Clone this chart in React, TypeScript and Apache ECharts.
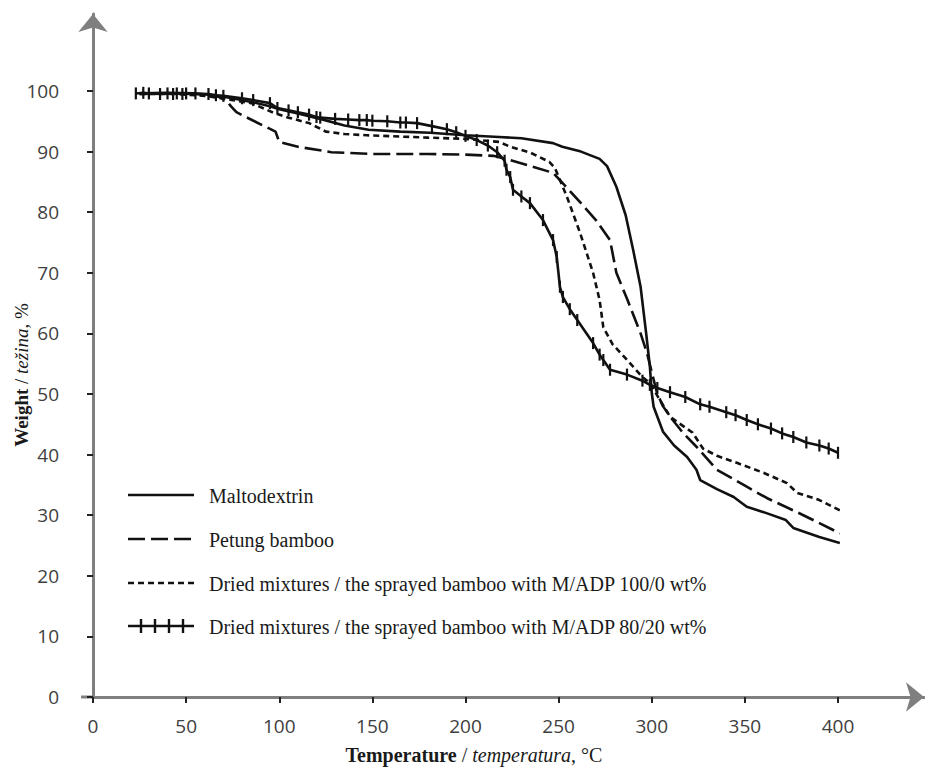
import React, { useEffect, useRef } from 'react';
import * as echarts from 'echarts';

// Temperature (°C) vs weight (%)
const maltodextrin: [number, number][] = [
  [25, 99.6], [40, 99.7], [55, 99.6], [65, 99.3], [75, 98.8], [85, 98.2], [95, 97.5], [100, 97.0],
  [110, 96.3], [122, 95.4], [135, 94.3], [148, 93.6], [165, 93.3], [181, 93.1], [200, 92.7],
  [218, 92.4], [230, 92.2], [247, 91.4], [252, 90.8], [262, 90.0], [272, 88.8], [276, 87.6],
  [281, 84.2], [286, 79.5], [290, 73.8], [294, 67.7], [297, 60.0], [299, 54.5], [300, 50.2],
  [301, 47.9], [306, 43.8], [312, 41.5], [319, 39.6], [324, 37.5], [326, 35.8], [335, 34.3],
  [344, 33.0], [351, 31.4], [362, 30.3], [372, 29.2], [376, 27.9], [390, 26.4], [401, 25.4],
];

const petungBamboo: [number, number][] = [
  [25, 99.5], [45, 99.6], [60, 99.4], [68, 99.0], [72, 98.3], [74, 97.5], [77, 96.5], [88, 94.8],
  [98, 93.3], [100, 91.6], [110, 90.8], [128, 89.9], [150, 89.6], [180, 89.6], [200, 89.5],
  [215, 89.3], [224, 88.6], [235, 87.6], [247, 86.5], [254, 84.2], [262, 81.5], [270, 78.7],
  [277.6, 75.4], [281, 70.0], [287, 65.5], [294, 60.0], [297.4, 56.8], [302.8, 50.2], [306, 48.0],
  [310, 46.2], [317, 43.5], [324, 41.3], [335, 37.5], [351, 34.7], [362, 32.8], [378, 30.5],
  [390, 28.7], [401, 27.0],
];

const mix100: [number, number][] = [
  [25, 99.5], [45, 99.5], [60, 99.2], [75, 98.5], [85, 98.0], [97, 96.4], [105, 95.6], [116, 94.7],
  [125, 93.3], [135, 92.9], [147, 92.7], [180, 92.3], [200, 92.1], [218, 91.6], [224, 90.8],
  [235, 89.8], [245, 88.3], [248, 87.3], [254.5, 82.5], [261.5, 76.6], [268.5, 70.0], [272, 65.5],
  [274, 61.0], [279, 58.2], [285, 56.2], [290, 54.5], [295, 52.8], [299, 51.8], [304, 49.2],
  [310, 46.2], [322, 43.6], [327.5, 41.0], [335, 39.8], [346, 38.6], [360, 37.0], [372.6, 35.3],
  [378, 33.7], [390, 32.5], [401, 30.8],
];

const mix80: [number, number][] = [
  [23, 99.6], [27, 99.7], [30, 99.6], [36, 99.5], [40, 99.6], [43, 99.5], [45, 99.6], [48, 99.5],
  [50, 99.6], [55, 99.6], [62, 99.5], [66, 99.3], [70, 99.2], [80, 98.8], [86, 98.5], [95, 98.0],
  [99, 97.2], [105, 96.8], [110, 96.5], [116, 96.1], [120, 95.7], [122, 95.6], [130, 95.4],
  [137, 95.3], [143, 95.2], [147, 95.2], [150, 95.1], [158, 95.0], [165, 94.8], [168, 94.8],
  [174, 94.7], [182, 94.2], [190, 93.7], [195, 93.2], [200, 92.6], [206, 91.9], [212, 91.0],
  [217, 89.9], [221, 88.5], [222, 87.0], [224, 85.8], [225.5, 83.7], [230, 82.6], [234.6, 81.5],
  [241.6, 78.7], [247, 75.4], [249, 72.6], [250.7, 67.7], [252.3, 66.0], [256, 64.0], [260, 62.2],
  [268.5, 58.4], [272, 56.5], [274, 55.6], [277.6, 54.0], [286.7, 53.2], [295, 52.2], [299, 51.5],
  [303, 51.0], [309.8, 50.3], [318, 49.5], [326, 48.3], [331, 47.9], [340, 47.0], [345, 46.5],
  [351, 45.7], [357, 45.0], [364, 44.3], [370, 43.5], [376, 42.9], [383, 42.0], [390, 41.5],
  [395, 41.0], [400, 40.3],
];

const seriesNames = [
  'Maltodextrin',
  'Petung bamboo',
  'Dried mixtures / the sprayed bamboo with M/ADP 100/0 wt%',
  'Dried mixtures / the sprayed bamboo with M/ADP 80/20 wt%',
];

const X_MIN = 0;
const X_MAX = 400;
const X_STEP = 50;
const Y_MIN = 0;
const Y_MAX = 100;
const Y_STEP = 10;

const INK = '#111111';
const AXIS_GRAY = '#7f7f7f';
const LABEL_FONT = 'Open Sans';
const SERIF = 'Liberation Serif';

export default function App() {
  const ref = useRef<HTMLDivElement>(null);

  useEffect(() => {
    if (!ref.current) return;
    const chart = echarts.init(ref.current, null, { renderer: 'svg' });

    const legendRows = [495, 539, 583, 626];
    const lx0 = 128;
    const lx1 = 194;
    const legendGraphics: any[] = [];
    const dashes: (number[] | null)[] = [null, [17, 6], [6, 4], null];
    seriesNames.forEach((name, i) => {
      const y = legendRows[i];
      legendGraphics.push({
        type: 'line',
        shape: { x1: lx0, y1: y, x2: lx1, y2: y },
        style: { stroke: INK, lineWidth: 2.6, lineDash: dashes[i] || undefined },
      });
      if (i === 3) {
        [141, 155, 169, 183].forEach((tx) => {
          legendGraphics.push({
            type: 'line',
            shape: { x1: tx, y1: y - 7, x2: tx, y2: y + 7 },
            style: { stroke: INK, lineWidth: 2.4 },
          });
        });
      }
      legendGraphics.push({
        type: 'text',
        x: 209,
        y: y + 1,
        style: {
          text: name,
          fontFamily: SERIF,
          fontSize: 20,
          fill: '#1a1a1a',
          align: 'left',
          verticalAlign: 'middle',
        },
      });
    });

    const option: any = {
      animation: false,
      backgroundColor: '#ffffff',
      grid: [
        { left: 93, right: 87, top: 91, bottom: 72 },
        { left: 93, right: 1, top: 14, bottom: 72 },
      ],
      xAxis: [
        {
          gridIndex: 0,
          type: 'value',
          min: X_MIN,
          max: X_MAX,
          interval: X_STEP,
          axisLine: { show: false },
          axisTick: { show: true, length: 6, lineStyle: { color: '#222', width: 2 } },
          axisLabel: { margin: 19, fontFamily: LABEL_FONT, fontSize: 19, color: '#404040' },
          splitLine: { show: false },
        },
        {
          gridIndex: 1,
          type: 'value',
          min: 0,
          max: 1,
          axisLine: {
            show: true,
            symbol: ['none', 'arrow'],
            symbolSize: [22, 18],
            lineStyle: { color: AXIS_GRAY, width: 3 },
          },
          axisTick: { show: false },
          axisLabel: { show: false },
          splitLine: { show: false },
        },
      ],
      yAxis: [
        {
          gridIndex: 0,
          type: 'value',
          min: Y_MIN,
          max: Y_MAX,
          interval: Y_STEP,
          axisLine: { show: false },
          axisTick: { show: true, length: 6, lineStyle: { color: '#222', width: 2 } },
          axisLabel: { margin: 34, fontFamily: LABEL_FONT, fontSize: 19, color: '#404040' },
          splitLine: { show: false },
        },
        {
          gridIndex: 1,
          type: 'value',
          min: 0,
          max: 1,
          axisLine: {
            show: true,
            symbol: ['none', 'arrow'],
            symbolSize: [22, 18],
            lineStyle: { color: AXIS_GRAY, width: 3 },
          },
          axisTick: { show: false },
          axisLabel: { show: false },
          splitLine: { show: false },
        },
      ],
      series: [
        {
          name: seriesNames[0],
          type: 'line',
          xAxisIndex: 0,
          yAxisIndex: 0,
          data: maltodextrin,
          showSymbol: false,
          symbol: 'none',
          lineStyle: { color: INK, width: 2.6 },
          silent: true,
        },
        {
          name: seriesNames[1],
          type: 'line',
          xAxisIndex: 0,
          yAxisIndex: 0,
          data: petungBamboo,
          showSymbol: false,
          symbol: 'none',
          lineStyle: { color: INK, width: 2.6, type: [17, 6] },
          silent: true,
        },
        {
          name: seriesNames[2],
          type: 'line',
          xAxisIndex: 0,
          yAxisIndex: 0,
          data: mix100,
          showSymbol: false,
          symbol: 'none',
          lineStyle: { color: INK, width: 2.6, type: [6, 4] },
          silent: true,
        },
        {
          name: seriesNames[3],
          type: 'line',
          xAxisIndex: 0,
          yAxisIndex: 0,
          data: mix80,
          showSymbol: true,
          showAllSymbol: true,
          symbol: 'rect',
          symbolSize: [2.2, 12],
          itemStyle: { color: INK },
          lineStyle: { color: INK, width: 2.6 },
          silent: true,
        },
      ],
      graphic: [
        ...legendGraphics,
        {
          type: 'line',
          shape: { x1: 81, y1: 697, x2: 94, y2: 697 },
          style: { stroke: AXIS_GRAY, lineWidth: 3 },
        },
        {
          type: 'text',
          x: 474,
          y: 755,
          style: {
            text: '{b|Temperature} / {i|temperatura}, °C',
            rich: {
              b: { fontWeight: 'bold', fontFamily: SERIF, fontSize: 20, fill: '#1a1a1a' },
              i: { fontStyle: 'italic', fontFamily: SERIF, fontSize: 20, fill: '#1a1a1a' },
            },
            fontFamily: SERIF,
            fontSize: 20,
            fill: '#1a1a1a',
            align: 'center',
            verticalAlign: 'middle',
          },
        },
        {
          type: 'text',
          x: 21,
          y: 375,
          rotation: Math.PI / 2,
          style: {
            text: '{b|Weight} / {i|težina}, %',
            rich: {
              b: { fontWeight: 'bold', fontFamily: SERIF, fontSize: 19, fill: '#1a1a1a' },
              i: { fontStyle: 'italic', fontFamily: SERIF, fontSize: 19, fill: '#1a1a1a' },
            },
            fontFamily: SERIF,
            fontSize: 19,
            fill: '#1a1a1a',
            align: 'center',
            verticalAlign: 'middle',
          },
        },
      ],
    };

    chart.setOption(option);
    return () => chart.dispose();
  }, []);

  return (
    <div
      ref={ref}
      style={{ position: 'fixed', left: 0, top: 0, width: 925, height: 769, background: '#fff' }}
    />
  );
}
